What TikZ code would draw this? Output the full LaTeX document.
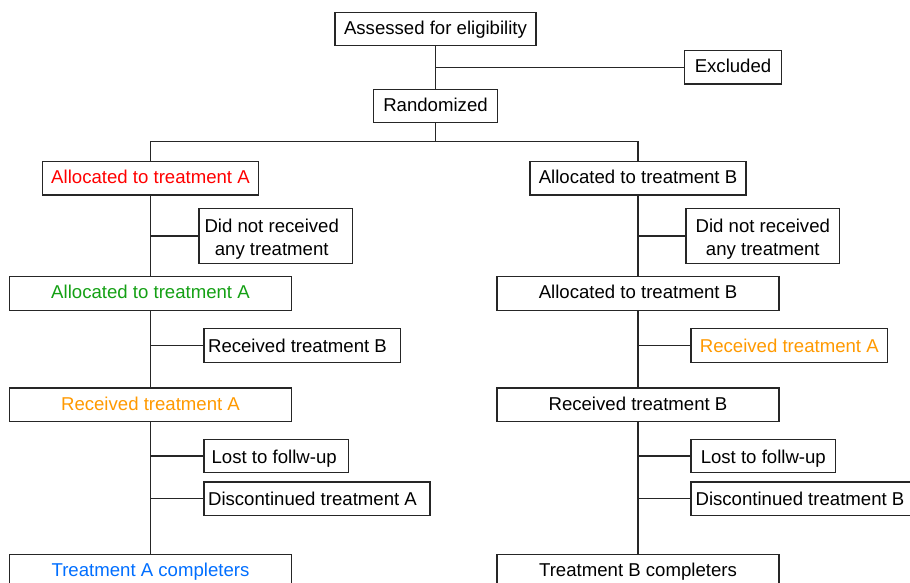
\documentclass[tikz,border=0pt]{standalone}
\usepackage{fontspec}
\setmainfont{Liberation Sans}
\usepackage{xcolor}

\definecolor{allocred}{RGB}{255,0,0}
\definecolor{allocgreen}{RGB}{20,160,20}
\definecolor{recorange}{RGB}{255,153,0}
\definecolor{compblue}{RGB}{0,110,255}

\tikzset{
  box/.style={draw=black!85, line width=0.65pt, inner sep=0pt, align=center,
    minimum width=#1, minimum height=16.75pt, text height=7.2pt, text depth=2pt,
    font=\fontsize{9.3}{11.7}\selectfont},
  tallbox/.style={box=#1, minimum height=27.5pt, text height=21.7pt, text depth=2pt},
  lowtext/.style={text height=8.6pt, text depth=1.4pt},
  nudge/.style={execute at end node={\kern#1}},
  link/.style={draw=black!85, line width=0.65pt}
}

\begin{document}
\begin{tikzpicture}[x=0.5pt,y=-0.5pt]
				\useasboundingbox (0,0) rectangle (910,583);
				\clip (0,0) rectangle (910,583);

				\node[box=100.5pt] (assess) at (435.5, 29) {Assessed for eligibility};
				\node[box=48.7pt] (excluded) at (733, 67.3) {Excluded};
				\node[box=62.2pt] (random) at (435.5, 106) {Randomized};
				\coordinate (split) at (435.5, 141.7);
				\draw[link] (assess) -- (random);
				\draw[link] (assess |- excluded) -- (excluded);

				% arm A
				\node[box=108pt, text=allocred] (allocA) at (150.5, 178.3) {Allocated to treatment A};
				\node[tallbox=76.7pt] (nottreatA) at (275.7, 236) {Did not received\kern4pt\\any treatment\kern4pt};
				\node[box=141pt, text=allocgreen] (allocAtwo) at (150.5, 293.5) {Allocated to treatment A};
				\node[box=98.3pt, lowtext, nudge=4.8pt] (switchA) at (302.3, 345.5) {Received treatment B};
				\node[box=141pt, text=recorange] (recA) at (150.5, 404.8) {Received treatment A};
				\node[box=72.2pt, lowtext, nudge=2pt] (lostA) at (276.2, 456) {Lost to follw-up};
				\node[box=113pt, lowtext, nudge=4.5pt] (discA) at (317, 498.7) {Discontinued treatment A};
				\node[box=141pt, text=compblue] (compA) at (150.5, 571.5) {Treatment A completers};

				% arm B
				\node[box=108pt] (allocB) at (638, 178.3) {Allocated to treatment B};
				\node[tallbox=76.7pt] (nottreatB) at (762.8, 236) {Did not received\\any treatment};
				\node[box=141pt] (allocBtwo) at (638, 293.5) {Allocated to treatment B};
				\node[box=98.3pt, lowtext, text=recorange] (switchB) at (789.3, 345.5) {Received treatment A};
				\node[box=141pt] (recB) at (638, 404.8) {Received treatment B};
				\node[box=72.2pt, lowtext] (lostB) at (763.3, 456) {Lost to follw-up};
				\node[box=113pt, lowtext, nudge=4pt] (discB) at (804, 498.7) {Discontinued treatment B};
				\node[box=141pt] (compB) at (638, 571.5) {Treatment B completers};

				\draw[link] (random) -- (split);
				\draw[link] (allocA.north) |- (split) -| (allocB.north);

				\draw[link] (allocA) -- (allocAtwo);
				\draw[link] (allocAtwo) -- (recA);
				\draw[link] (recA) -- (compA);
				\draw[link] (allocA |- nottreatA) -- (nottreatA);
				\draw[link] (allocAtwo |- switchA) -- (switchA);
				\draw[link] (recA |- lostA) -- (lostA);
				\draw[link] (recA |- discA) -- (discA);

				\draw[link] (allocB) -- (allocBtwo);
				\draw[link] (allocBtwo) -- (recB);
				\draw[link] (recB) -- (compB);
				\draw[link] (allocB |- nottreatB) -- (nottreatB);
				\draw[link] (allocBtwo |- switchB) -- (switchB);
				\draw[link] (recB |- lostB) -- (lostB);
				\draw[link] (recB |- discB) -- (discB);
			\end{tikzpicture}
\end{document}
